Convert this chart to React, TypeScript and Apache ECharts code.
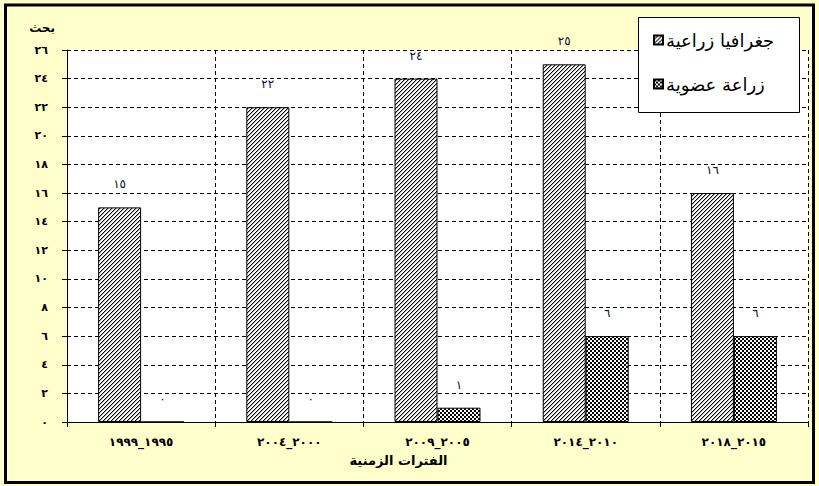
import React, { useEffect, useRef } from "react";
import * as echarts from "echarts";

const categories = ["١٩٩٥_١٩٩٩", "٢٠٠٠_٢٠٠٤", "٢٠٠٥_٢٠٠٩", "٢٠١٠_٢٠١٤", "٢٠١٥_٢٠١٨"];
const seriesNames = ["جغرافيا زراعية", "زراعة عضوية"];
const geoAgriculture = [15, 22, 24, 25, 16];
const organicAgriculture = [0, 0, 1, 6, 6];
const yAxisName = "بحث";
const xAxisName = "الفترات الزمنية";

const toArabicDigits = (v: number | string) =>
  String(v).replace(/\d/g, (d) => "٠١٢٣٤٥٦٧٨٩"[Number(d)]);

function makePattern(kind: "hatch" | "checker") {
  const c = document.createElement("canvas");
  c.width = 4;
  c.height = 4;
  const ctx = c.getContext("2d")!;
  const img = ctx.createImageData(4, 4);
  for (let y = 0; y < 4; y++) {
    for (let x = 0; x < 4; x++) {
      let v = 255;
      if (kind === "hatch") {
        const m = (x + y) % 4;
        if (m === 3) v = 0;
        else if (m === 0) v = 170;
      } else {
        v = (Math.floor(x / 2) + Math.floor(y / 2)) % 2 === 0 ? 0 : 255;
      }
      const i = (y * 4 + x) * 4;
      img.data[i] = v;
      img.data[i + 1] = v;
      img.data[i + 2] = v;
      img.data[i + 3] = 255;
    }
  }
  ctx.putImageData(img, 0, 0);
  return { image: c, repeat: "repeat" } as any;
}

const FONT = "'DejaVu Sans', Arial, sans-serif";

export default function App() {
  const ref = useRef<HTMLDivElement>(null);
  useEffect(() => {
    if (!ref.current) return;
    const chart = echarts.init(ref.current, null, { renderer: "svg" });
    const hatch = makePattern("hatch");
    const checker = makePattern("checker");
    const labelCommon = {
      show: true,
      position: "top",
      distance: 17,
      color: "#0a1030",
      fontSize: 12,
      fontFamily: FONT,
      formatter: (p: any) => toArabicDigits(p.value),
    };
    chart.setOption({
      animation: false,
      backgroundColor: "#FFFFCC",
      textStyle: { fontFamily: FONT },
      grid: {
        left: 67,
        right: 11,
        top: 50,
        bottom: 64,
        show: true,
        backgroundColor: "#ffffff",
        borderWidth: 0,
      },
      legend: {
        orient: "vertical",
        left: 653,
        top: 31,
        padding: 0,
        itemWidth: 9,
        itemHeight: 9,
        itemGap: 26,
        icon: "rect",
        data: seriesNames,
        textStyle: { fontSize: 18, color: "#000", fontFamily: FONT, padding: [0, 0, 0, -2] },
        z: 5,
      },
      xAxis: {
        type: "category",
        data: categories,
        name: xAxisName,
        nameLocation: "middle",
        nameGap: 32,
        nameTextStyle: {
          fontWeight: "bold",
          fontSize: 13,
          color: "#000",
          padding: [0, 78, 0, 0],
        },
        axisLine: { show: true, lineStyle: { color: "#000", width: 1 } },
        axisTick: { show: true, length: 5, interval: 0, lineStyle: { color: "#000" } },
        axisLabel: {
          interval: 0,
          margin: 14,
          fontSize: 12,
          fontWeight: "bold",
          color: "#000",
        },
        splitLine: {
          show: true,
          interval: 0,
          lineStyle: { color: "#000", type: [4, 3], width: 1 },
        },
      },
      yAxis: {
        type: "value",
        min: 0,
        max: 26,
        interval: 2,
        name: yAxisName,
        nameLocation: "end",
        nameGap: 16,
        nameTextStyle: {
          fontWeight: "bold",
          fontSize: 12,
          color: "#000",
          align: "right",
          padding: [0, 12, 0, 0],
        },
        axisLine: { show: true, lineStyle: { color: "#000", width: 1 } },
        axisTick: { show: true, length: 5, lineStyle: { color: "#000" } },
        axisLabel: {
          margin: 19,
          fontSize: 11,
          fontWeight: "bold",
          color: "#000",
          formatter: (v: number) => toArabicDigits(v),
        },
        splitLine: {
          show: true,
          lineStyle: { color: "#000", type: [4, 3], width: 1 },
        },
      },
      series: [
        {
          name: seriesNames[0],
          type: "bar",
          data: geoAgriculture,
          barGap: "0%",
          barCategoryGap: "42%",
          itemStyle: { color: hatch, borderColor: "#000", borderWidth: 1 },
          label: labelCommon,
        },
        {
          name: seriesNames[1],
          type: "bar",
          data: organicAgriculture,
          barGap: "0%",
          barCategoryGap: "42%",
          itemStyle: { color: checker, borderColor: "#000", borderWidth: 1 },
          label: labelCommon,
        },
      ],
      graphic: [
        {
          type: "rect",
          z: 3,
          shape: { x: 638.5, y: 17.5, width: 161, height: 95 },
          style: { fill: "#ffffff", stroke: "#000", lineWidth: 1 },
        },
        {
          type: "rect",
          z: 10,
          shape: { x: 5.5, y: 5, width: 808, height: 477.5 },
          style: { fill: null, stroke: "#000", lineWidth: 3 },
        },
      ],
    });
    return () => chart.dispose();
  }, []);
  return (
    <div
      ref={ref}
      style={{ position: "fixed", left: 0, top: 0, width: 819, height: 486 }}
    />
  );
}
